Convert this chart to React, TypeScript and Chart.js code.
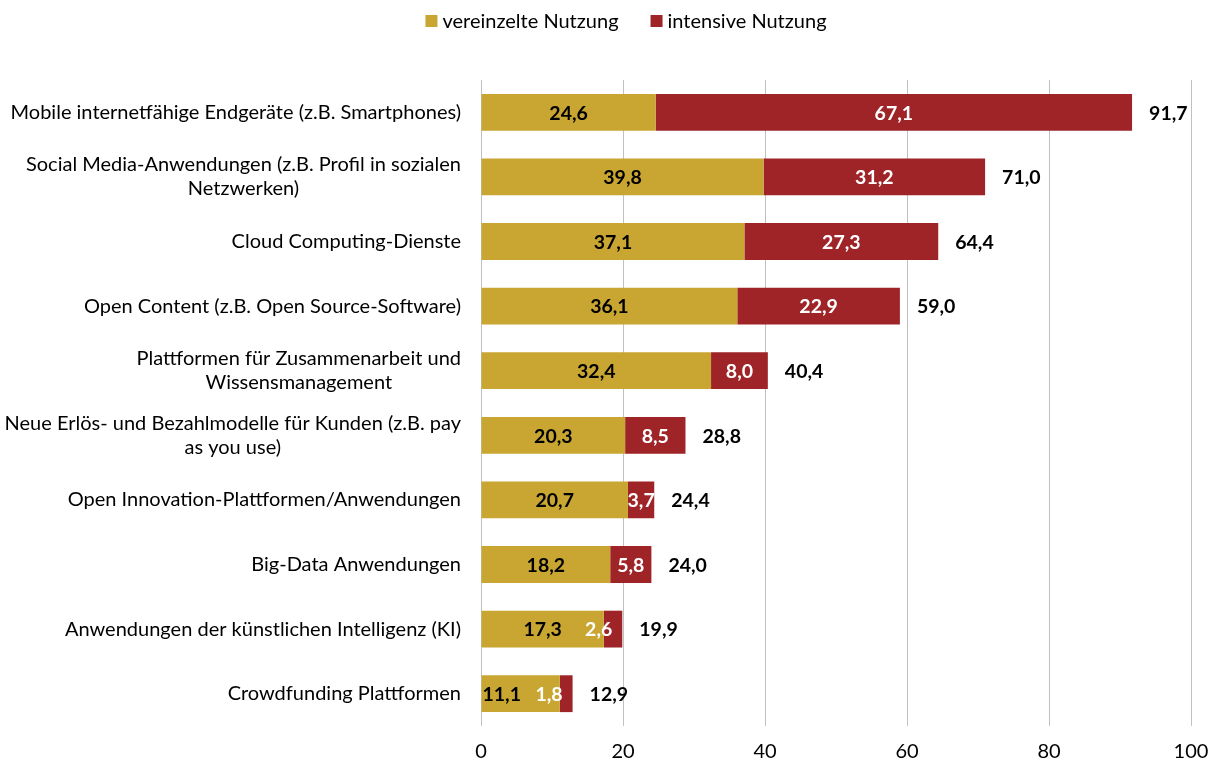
import React, { useEffect, useRef } from "react";
import { Chart, registerables } from "chart.js";

Chart.register(...registerables);

const categories: (string | string[])[] = [
  "Mobile internetfähige Endgeräte (z.B. Smartphones)",
  ["Social Media-Anwendungen (z.B. Profil in sozialen", "Netzwerken)"],
  "Cloud Computing-Dienste",
  "Open Content (z.B. Open Source-Software)",
  ["Plattformen für Zusammenarbeit und", "Wissensmanagement"],
  ["Neue Erlös- und Bezahlmodelle für Kunden (z.B. pay", "as you use)"],
  "Open Innovation-Plattformen/Anwendungen",
  "Big-Data Anwendungen",
  "Anwendungen der künstlichen Intelligenz (KI)",
  "Crowdfunding Plattformen",
];

const vereinzelt = [24.6, 39.8, 37.1, 36.1, 32.4, 20.3, 20.7, 18.2, 17.3, 11.1];
const intensiv = [67.1, 31.2, 27.3, 22.9, 8.0, 8.5, 3.7, 5.8, 2.6, 1.8];
const totals = [91.7, 71.0, 64.4, 59.0, 40.4, 28.8, 24.4, 24.0, 19.9, 12.9];

const seriesNames = ["vereinzelte Nutzung", "intensive Nutzung"];
const GOLD = "#C8A631";
const RED = "#9E2427";
const FONT = "Lato";
const FS = 20;
const BFS = 19.5;

const fmt = (v: number) => v.toFixed(1).replace(".", ",");

const labelPlugin = {
  id: "customLabels",
  afterDatasetsDraw(chart: any) {
    const ctx = chart.ctx;
    const m0 = chart.getDatasetMeta(0);
    const m1 = chart.getDatasetMeta(1);
    ctx.save();
    ctx.font = `bold ${BFS}px ${FONT}`;
    ctx.textBaseline = "middle";
    ctx.textAlign = "center";
    for (let i = 0; i < categories.length; i++) {
      const g = m0.data[i].getProps(["x", "y", "base"], true);
      const r = m1.data[i].getProps(["x", "y", "base"], true);
      const gt = fmt(vereinzelt[i]);
      const rt = fmt(intensiv[i]);
      const wg = ctx.measureText(gt).width;
      const wr = ctx.measureText(rt).width;
      let rc = (r.base + r.x) / 2;
      if (wr > r.x - r.base + 6) rc = r.x - 10 - wr / 2;
      let gc = (g.base + g.x) / 2;
      if (gc + wg / 2 > rc - wr / 2 - 17) gc = rc - wr / 2 - 17 - wg / 2;
      gc = Math.max(gc, g.base + 1 + wg / 2);
      const y = g.y + 1;
      ctx.fillStyle = "#000";
      ctx.fillText(gt, gc, y);
      ctx.fillStyle = "#fff";
      ctx.fillText(rt, rc, y);
      ctx.fillStyle = "#000";
      ctx.textAlign = "left";
      ctx.fillText(fmt(totals[i]), r.x + 17, y);
      ctx.textAlign = "center";
    }
    ctx.restore();
  },
  afterDraw(chart: any) {
    const ctx = chart.ctx;
    const area = chart.chartArea;
    const ys = chart.scales.y;
    ctx.save();
    ctx.font = `${FS}px ${FONT}`;
    ctx.fillStyle = "#000";
    ctx.textBaseline = "middle";
    ctx.textAlign = "center";
    const lh = 24;
    categories.forEach((c, i) => {
      const lines = Array.isArray(c) ? c : [c];
      const maxW = Math.max(...lines.map((l) => ctx.measureText(l).width));
      const right = area.left - 20;
      const cx = right - maxW / 2;
      const yc = ys.getPixelForValue(i);
      const y0 = yc - ((lines.length - 1) * lh) / 2;
      lines.forEach((l, k) => ctx.fillText(l, cx, y0 + k * lh));
    });
    // legend
    const colors = [GOLD, RED];
    const widths = seriesNames.map((n) => ctx.measureText(n).width);
    const box = 12;
    const gap = 5;
    const itemGap = 32;
    const total = widths.reduce((a, w) => a + box + gap + w, 0) + itemGap;
    let x = 626 - total / 2;
    const ly = 21;
    ctx.textAlign = "left";
    seriesNames.forEach((n, k) => {
      ctx.fillStyle = colors[k];
      ctx.fillRect(x, ly - box / 2, box, box);
      x += box + gap;
      ctx.fillStyle = "#000";
      ctx.fillText(n, x, ly + 1);
      x += widths[k] + itemGap;
    });
    ctx.restore();
  },
};

export default function App() {
  const ref = useRef<HTMLCanvasElement>(null);
  useEffect(() => {
    if (!ref.current) return;
    const chart = new Chart(ref.current, {
      type: "bar",
      data: {
        labels: categories.map((c) => (Array.isArray(c) ? c.join(" ") : c)),
        datasets: [
          {
            label: seriesNames[0],
            data: vereinzelt,
            backgroundColor: GOLD,
            categoryPercentage: 1,
            barPercentage: 0.57,
          },
          {
            label: seriesNames[1],
            data: intensiv,
            backgroundColor: RED,
            categoryPercentage: 1,
            barPercentage: 0.57,
          },
        ],
      },
      options: {
        indexAxis: "y",
        responsive: false,
        animation: false,
        layout: { padding: { left: 481, right: 22, top: 80, bottom: 0 } },
        plugins: {
          legend: { display: false },
          tooltip: { enabled: false },
        },
        scales: {
          x: {
            stacked: true,
            min: 0,
            max: 100,
            afterFit: (s: any) => {
              s.height = 36;
              s.paddingLeft = 0;
              s.paddingRight = 0;
            },
            ticks: {
              stepSize: 20,
              color: "#000",
              padding: 14,
              maxRotation: 0,
              font: { family: FONT, size: FS },
            },
            grid: { color: "#c0c0c0", drawTicks: false },
            border: { display: false },
          },
          y: {
            stacked: true,
            afterFit: (s: any) => {
              s.width = 0;
            },
            ticks: { display: false },
            grid: { display: false },
            border: { display: false },
          },
        },
      },
      plugins: [labelPlugin],
    });
    return () => chart.destroy();
  }, []);
  return (
    <div style={{ position: "absolute", left: 0, top: 0, width: 1213, height: 762 }}>
      <canvas ref={ref} width={1213} height={762} />
    </div>
  );
}
